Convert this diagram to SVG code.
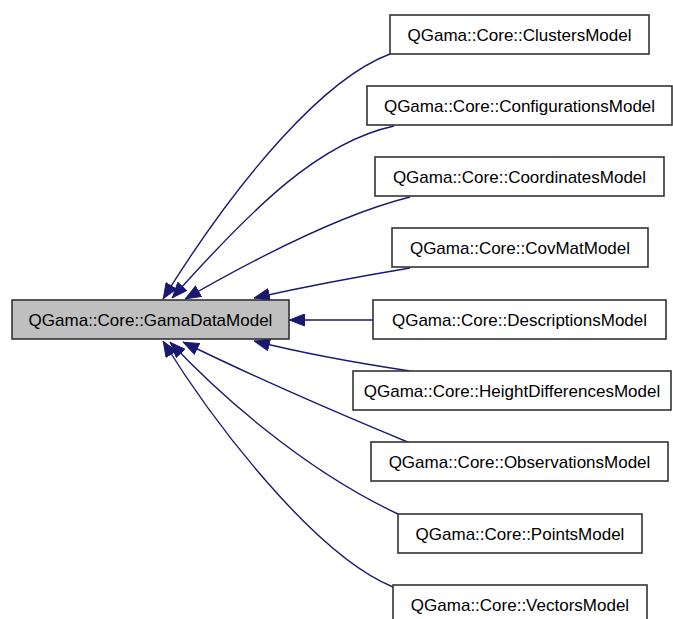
<svg xmlns="http://www.w3.org/2000/svg" width="673" height="619" viewBox="0 0 673 619">
<defs>
<style>
.box{fill:#ffffff;stroke:#333333;stroke-width:1.6}
.main{fill:#bfbfbf;stroke:#333333;stroke-width:1.6}
.lbl{font-family:"Liberation Sans",Arial,Helvetica,sans-serif;font-size:17px;fill:#000000;text-anchor:middle}
.edge{fill:none;stroke:#191970;stroke-width:1.4;marker-end:url(#arr)}
</style>
<marker id="arr" viewBox="0 0 16 13" refX="16" refY="6.5" markerWidth="16" markerHeight="13" markerUnits="userSpaceOnUse" orient="auto">
<path d="M0.5,0.5 L15.5,6.5 L0.5,12.5 z" fill="#191970" stroke="#191970"/>
</marker>
</defs>
<rect width="673" height="619" fill="#ffffff"/>
<g id="edges">
<path class="edge" d="M390,54 C325,78 240,175 163,299"/>
<path class="edge" d="M394,126 C320,142 255,205 172,298"/>
<path class="edge" d="M410,197 C350,212 270,250 185,299"/>
<path class="edge" d="M410,268 C350,278 290,290 254,298"/>
<path class="edge" d="M373,320 L289,320"/>
<path class="edge" d="M410,371 C350,362 290,350 254,341"/>
<path class="edge" d="M410,443 C330,410 240,370 183,342"/>
<path class="edge" d="M398,514 C300,468 215,390 170,342"/>
<path class="edge" d="M393,587 C315,555 215,425 163,341"/>
</g>
<g id="GamaDataModel"><rect class="main" x="12" y="300" width="277" height="39"/><text class="lbl" x="150.5" y="325.5">QGama::Core::GamaDataModel</text></g>
<g id="ClustersModel"><rect class="box" x="390" y="15" width="259" height="39"/><text class="lbl" x="519.5" y="40.5">QGama::Core::ClustersModel</text></g>
<g id="ConfigurationsModel"><rect class="box" x="367" y="86" width="305" height="39"/><text class="lbl" x="519.5" y="111.5">QGama::Core::ConfigurationsModel</text></g>
<g id="CoordinatesModel"><rect class="box" x="375" y="157" width="289" height="39"/><text class="lbl" x="519.5" y="182.5">QGama::Core::CoordinatesModel</text></g>
<g id="CovMatModel"><rect class="box" x="392" y="228" width="256" height="39"/><text class="lbl" x="520" y="253.5">QGama::Core::CovMatModel</text></g>
<g id="DescriptionsModel"><rect class="box" x="373" y="300" width="293" height="39"/><text class="lbl" x="519.5" y="325.5">QGama::Core::DescriptionsModel</text></g>
<g id="HeightDifferencesModel"><rect class="box" x="353" y="371" width="318" height="39"/><text class="lbl" x="512" y="396.5">QGama::Core::HeightDifferencesModel</text></g>
<g id="ObservationsModel"><rect class="box" x="371" y="442" width="297" height="39"/><text class="lbl" x="519.5" y="467.5">QGama::Core::ObservationsModel</text></g>
<g id="PointsModel"><rect class="box" x="398" y="514" width="244" height="39"/><text class="lbl" x="520" y="539.5">QGama::Core::PointsModel</text></g>
<g id="VectorsModel"><rect class="box" x="393" y="585" width="254" height="39"/><text class="lbl" x="520" y="610.5">QGama::Core::VectorsModel</text></g>
</svg>
